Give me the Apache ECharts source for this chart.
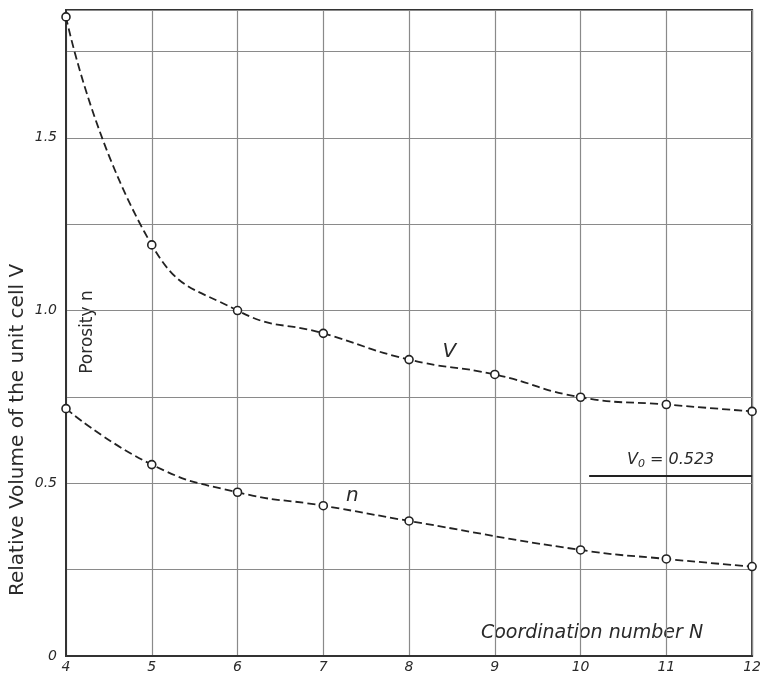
<!DOCTYPE html>
<html>
<head>
<meta charset="utf-8">
<script src="https://cdn.jsdelivr.net/npm/echarts@6/dist/echarts.min.js"></script>
<style>html,body{margin:0;padding:0;background:#fff;}#c{width:764px;height:674px;}</style>
</head>
<body>
<div id="c"></div>
<script>
// Coordination number N and relative volume of unit cell V
var coordN = [4, 5, 6, 7, 8, 9, 10, 11, 12];
var volumeV = [1.85, 1.19, 1.00, 0.934, 0.858, 0.815, 0.749, 0.728, 0.708];
// Porosity n (no marker at N = 9)
var porosityN = [4, 5, 6, 7, 8, 10, 11, 12];
var porosity = [0.716, 0.554, 0.474, 0.435, 0.391, 0.307, 0.281, 0.259];
// Reference volume V0
var v0Value = 0.523;
var v0Start = 10.1;
var v0End = 12;
var yLabelValues = [0, 0.5, 1.0, 1.5];

var font = 'DejaVu Sans';
var ink = '#2a2a2a';

function pairs(xs, ys) { return xs.map(function (x, i) { return [x, ys[i]]; }); }

var chart = echarts.init(document.getElementById('c'));
chart.setOption({
  animation: false,
  backgroundColor: '#ffffff',
  grid: { left: 66, right: 7, top: 10, bottom: 17, show: true, borderColor: '#333', borderWidth: 2, backgroundColor: 'transparent' },
  xAxis: {
    type: 'value', min: 4, max: 12, interval: 1,
    axisLine: { show: true, lineStyle: { color: '#333', width: 2 } },
    axisTick: { show: false },
    splitLine: { show: true, lineStyle: { color: '#8a8a8a', width: 1.2 } },
    axisLabel: { fontFamily: font, fontStyle: 'italic', fontSize: 14, color: ink, margin: 4 }
  },
  yAxis: {
    type: 'value', min: 0, max: 1.87, interval: 0.25,
    axisLine: { show: true, lineStyle: { color: '#333', width: 2 } },
    axisTick: { show: false },
    splitLine: { show: true, lineStyle: { color: '#8a8a8a', width: 1.2 } },
    axisLabel: {
      showMaxLabel: false,
      fontFamily: font, fontStyle: 'italic', fontSize: 14, color: ink, margin: 9,
      formatter: function (v) {
        for (var i = 0; i < yLabelValues.length; i++) {
          if (Math.abs(v - yLabelValues[i]) < 1e-6) return v === 0 ? '0' : v.toFixed(1);
        }
        return '';
      }
    }
  },
  series: [
    {
      name: 'V', type: 'line', smooth: 0.5,
      data: pairs(coordN, volumeV),
      symbol: 'circle', symbolSize: 8,
      itemStyle: { color: '#ffffff', borderColor: '#222', borderWidth: 1.6 },
      lineStyle: { color: '#222', width: 1.8, type: [8, 4] },
      z: 5,
      markPoint: {
        symbol: 'circle', symbolSize: 0,
        data: [{ coord: [8.47, 0.88], value: 'V' }],
        label: { show: true, formatter: 'V', fontFamily: font, fontStyle: 'italic', fontSize: 20, color: ink }
      },
      markLine: {
        silent: true, symbol: ['none', 'none'],
        lineStyle: { color: '#222', width: 1.8, type: 'solid' },
        label: {
          show: true, position: 'middle', distance: 6,
          formatter: '{a|V}{b|0}{a| = 0.523}',
          rich: {
            a: { fontFamily: font, fontStyle: 'italic', fontSize: 16, color: ink },
            b: { fontFamily: font, fontStyle: 'italic', fontSize: 11, color: ink, verticalAlign: 'bottom', padding: [8, 0, 0, 0] }
          }
        },
        data: [[{ coord: [v0Start, v0Value] }, { coord: [v0End, v0Value] }]]
      }
    },
    {
      name: 'n', type: 'line', smooth: 0.5,
      data: pairs(porosityN, porosity),
      symbol: 'circle', symbolSize: 8,
      itemStyle: { color: '#ffffff', borderColor: '#222', borderWidth: 1.6 },
      lineStyle: { color: '#222', width: 1.8, type: [8, 4] },
      z: 5,
      markPoint: {
        symbol: 'circle', symbolSize: 0,
        data: [{ coord: [7.34, 0.465], value: 'n' }],
        label: { show: true, formatter: 'n', fontFamily: font, fontStyle: 'italic', fontSize: 20, color: ink }
      }
    }
  ],
  graphic: [
    {
      type: 'text', x: 18, y: 430, rotation: Math.PI / 2,
      style: { text: 'Relative Volume of the unit cell V', font: '20px "' + font + '"', fill: ink, textAlign: 'center', textVerticalAlign: 'middle' }
    },
    {
      type: 'text', x: 88, y: 332, rotation: Math.PI / 2,
      style: { text: 'Porosity n', font: '17px "' + font + '"', fill: ink, textAlign: 'center', textVerticalAlign: 'middle' }
    },
    {
      type: 'text', x: 592, y: 633,
      style: { text: 'Coordination number N', font: 'italic 19px "' + font + '"', fill: ink, textAlign: 'center', textVerticalAlign: 'middle' }
    }
  ]
});
</script>
</body>
</html>
